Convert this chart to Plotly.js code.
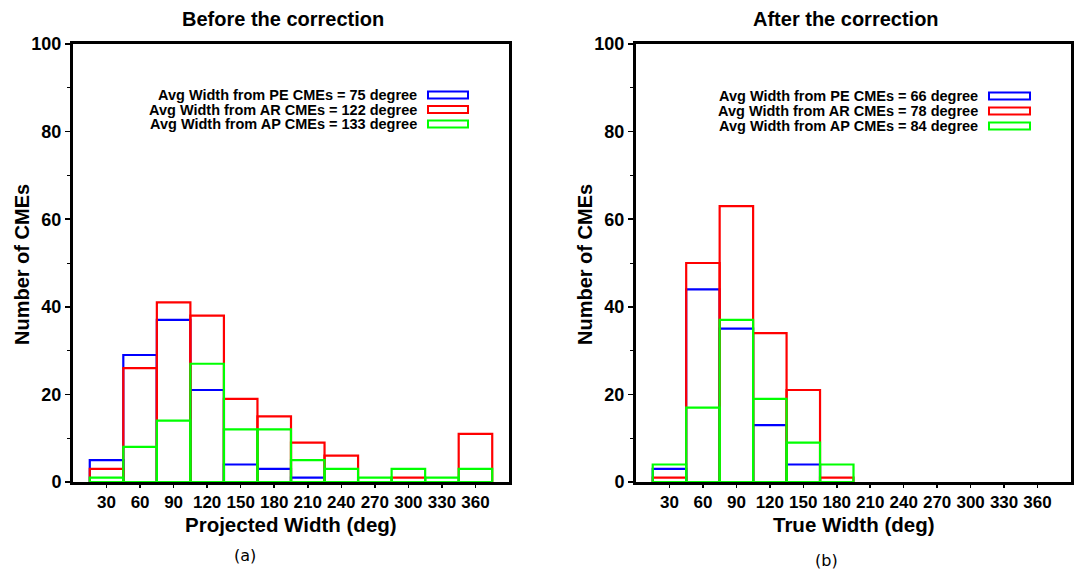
<!DOCTYPE html>
<html>
<head>
<meta charset="utf-8">
<script src="https://cdn.plot.ly/plotly-3.0.1.min.js"></script>
<style>
  html, body { margin: 0; padding: 0; background: #ffffff; }
  #chart { width: 1077px; height: 570px; }
</style>
</head>
<body>
<div id="chart"></div>
<script>
// Width bins (deg), bin centres
const bins = [30, 60, 90, 120, 150, 180, 210, 240, 270, 300, 330, 360];

// (a) projected widths, number of CMEs per bin
const peBefore = [5, 29, 37, 21, 4, 3, 1, 0, 0, 0, 0, 0];
const arBefore = [3, 26, 41, 38, 19, 15, 9, 6, 0, 1, 0, 11];
const apBefore = [1, 8, 14, 27, 12, 12, 5, 3, 1, 3, 1, 3];

// (b) true widths, number of CMEs per bin
const peAfter = [3, 44, 35, 13, 4, 0, 0, 0, 0, 0, 0, 0];
const arAfter = [1, 50, 63, 34, 21, 1, 0, 0, 0, 0, 0, 0];
const apAfter = [4, 17, 37, 19, 9, 4, 0, 0, 0, 0, 0, 0];

// legend labels
const legendBefore = [
  'Avg Width from PE CMEs = 75 degree',
  'Avg Width from AR CMEs = 122 degree',
  'Avg Width from AP CMEs = 133 degree'
];
const legendAfter = [
  'Avg Width from PE CMEs = 66 degree',
  'Avg Width from AR CMEs = 78 degree',
  'Avg Width from AP CMEs = 84 degree'
];
const seriesColors = ['#0000ff', '#ff0000', '#00ff00'];

const W = 1077, H = 570;
const px = x => x / W;
const py = y => 1 - y / H;

const FONT = 'Liberation Sans, Arial, sans-serif';
const boldFont = size => ({ family: FONT, size: size, color: '#000000', weight: 700 });

// empty bins are left undrawn
const hideZero = arr => arr.map(v => (v === 0 ? null : v));

function histTrace(values, color, xa, ya) {
  return {
    type: 'bar',
    x: bins,
    y: hideZero(values),
    width: 30,
    xaxis: xa,
    yaxis: ya,
    marker: { color: 'rgba(0,0,0,0)', line: { color: color, width: 2.2 } },
    hoverinfo: 'skip',
    showlegend: false
  };
}

const data = [
  histTrace(peBefore, seriesColors[0], 'x', 'y'),
  histTrace(arBefore, seriesColors[1], 'x', 'y'),
  histTrace(apBefore, seriesColors[2], 'x', 'y'),
  histTrace(peAfter, seriesColors[0], 'x2', 'y2'),
  histTrace(arAfter, seriesColors[1], 'x2', 'y2'),
  histTrace(apAfter, seriesColors[2], 'x2', 'y2')
];

function xAxis(domain) {
  return {
    domain: domain,
    range: [0, 390],
    tickmode: 'array',
    tickvals: bins,
    ticktext: bins.map(String),
    ticks: 'outside',
    ticklen: 3,
    tickwidth: 1.5,
    tickcolor: '#000000',
    tickfont: boldFont(17),
    showline: true,
    mirror: true,
    linewidth: 3,
    linecolor: '#000000',
    showgrid: false,
    zeroline: false,
    fixedrange: true
  };
}

function yAxis(domain, anchor) {
  return {
    domain: domain,
    anchor: anchor,
    range: [0, 100],
    tickmode: 'linear',
    tick0: 0,
    dtick: 20,
    ticks: 'outside',
    ticklen: 5,
    tickwidth: 1.5,
    tickcolor: '#000000',
    tickfont: boldFont(18),
    minor: { dtick: 10, ticks: 'outside', ticklen: 3, tickwidth: 1, tickcolor: '#000000' },
    showline: true,
    mirror: true,
    linewidth: 3,
    linecolor: '#000000',
    showgrid: false,
    zeroline: false,
    fixedrange: true
  };
}

const yDom = [py(482), py(44)];

const annotations = [];
const shapes = [];

function textAt(text, x, y, font, opts) {
  annotations.push(Object.assign({
    text: text, xref: 'paper', yref: 'paper',
    x: px(x), y: py(y), showarrow: false, font: font,
    xanchor: 'center', yanchor: 'middle'
  }, opts || {}));
}

// panel titles
textAt('Before the correction', 283, 19, boldFont(20));
textAt('After the correction', 846, 19, boldFont(20));

// axis titles
textAt('Projected Width (deg)', 291, 524, boldFont(20.5));
textAt('True Width (deg)', 854, 524, boldFont(20.5));
textAt('Number of CMEs', 22, 265, boldFont(20), { textangle: -90 });
textAt('Number of CMEs', 585, 265, boldFont(20), { textangle: -90 });

// panel labels
textAt('(a)', 245, 555, { family: 'DejaVu Sans, sans-serif', size: 16, color: '#000000' });
textAt('(b)', 826, 560, { family: 'DejaVu Sans, sans-serif', size: 16, color: '#000000' });

// key: label on the left, outlined swatch on the right
function key(labels, textRight, swX0, swX1, rows) {
  labels.forEach((label, i) => {
    textAt(label, textRight, rows[i], boldFont(14.5), { xanchor: 'right', borderpad: 0 });
    shapes.push({
      type: 'rect', xref: 'paper', yref: 'paper',
      x0: px(swX0), x1: px(swX1),
      y0: py(rows[i] + 3.5), y1: py(rows[i] - 3.5),
      line: { color: seriesColors[i], width: 2 },
      fillcolor: 'rgba(0,0,0,0)'
    });
  });
}
key(legendBefore, 418, 428, 468, [95, 109.5, 124]);
key(legendAfter, 979, 989, 1030, [96, 111, 126]);

const layout = {
  width: W,
  height: H,
  margin: { l: 0, r: 0, t: 0, b: 0 },
  paper_bgcolor: '#ffffff',
  plot_bgcolor: '#ffffff',
  barmode: 'overlay',
  bargap: 0,
  showlegend: false,
  xaxis: Object.assign(xAxis([px(73), px(509)]), { anchor: 'y' }),
  yaxis: yAxis(yDom, 'x'),
  xaxis2: Object.assign(xAxis([px(636), px(1071)]), { anchor: 'y2' }),
  yaxis2: yAxis(yDom, 'x2'),
  annotations: annotations,
  shapes: shapes
};

Plotly.newPlot('chart', data, layout, { staticPlot: true, displayModeBar: false });
</script>
</body>
</html>
